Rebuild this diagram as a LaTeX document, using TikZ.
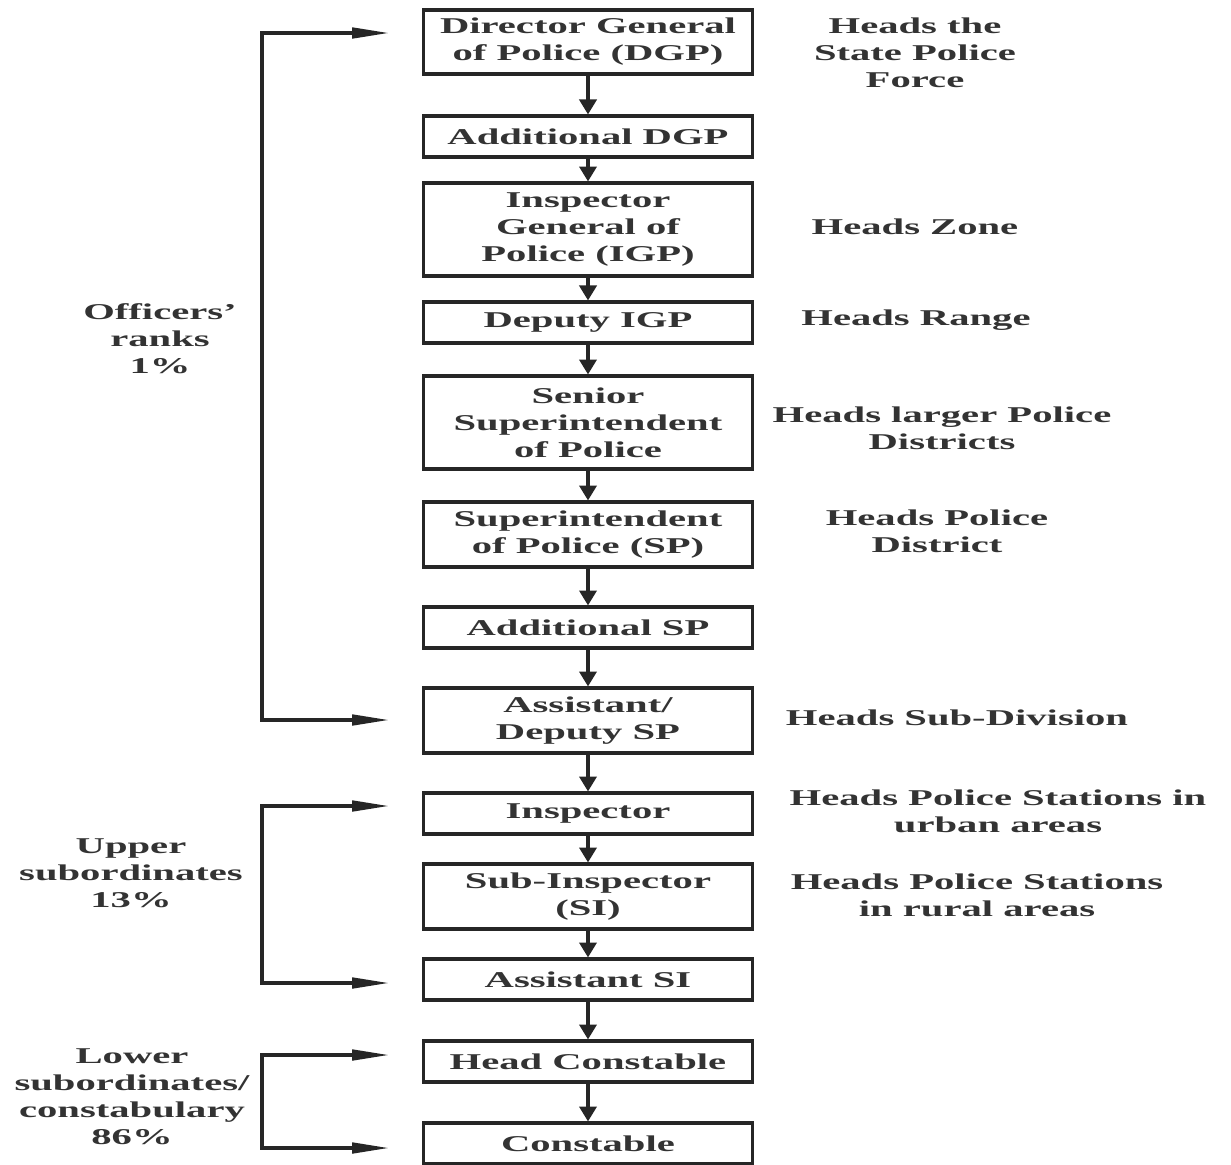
\documentclass[tikz,border=0pt]{standalone}
\usepackage{fontspec}
\setmainfont[FakeStretch=1.8]{Liberation Serif}
\usetikzlibrary{positioning, arrows.meta}

\begin{document}
\begin{tikzpicture}[
        x=0.02cm, y=-0.02cm,
        font=\bfseries\fontsize{12.85}{15.3}\selectfont,
        line width=1.8pt,
        rank/.style={draw=black!85, text=black!80, align=center, inner sep=0pt, minimum width=6.58cm, minimum height=0.82cm},
        note/.style={text=black!80, align=center, inner sep=0pt},
        down/.style={-{Triangle[length=8.5pt, width=9.8pt]}, draw=black!85},
        group/.style={{Triangle[length=21pt, width=6pt]}-{Triangle[length=21pt, width=6pt]}, draw=black!85},
    ]
    \useasboundingbox (0,0) rectangle (1231,1164);

    % Ranks, top to bottom
    \node[rank, minimum height=1.28cm] (dgp) at (588,42) {Director General\\of Police (DGP)};
    \node[rank] (adgp) at (588,136.5) {Additional DGP};
    \node[rank, minimum height=1.86cm] (igp) at (588,229.5) {Inspector\\General of\\Police (IGP)};
    \node[rank] (digp) at (588,322.5) {Deputy IGP};
    \node[rank, minimum height=1.86cm] (ssp) at (588,422.5) {Senior\\Superintendent\\of Police};
    \node[rank, minimum height=1.3cm] (sp) at (588,534.5) {Superintendent\\of Police (SP)};
    \node[rank] (addsp) at (588,627.5) {Additional SP};
    \node[rank, minimum height=1.3cm] (dsp) at (588,720.5) {Assistant/\\Deputy SP};
    \node[rank] (insp) at (588,813.5) {Inspector};
    \node[rank, minimum height=1.3cm] (si) at (588,896.5) {Sub-Inspector\\(SI)};
    \node[rank] (asi) at (588,979.5) {Assistant SI};
    \node[rank] (hc) at (588,1061.5) {Head Constable};
    \node[rank] (con) at (588,1143.5) {Constable};

    % Chain of command
    \foreach \upper/\lower in {dgp/adgp, adgp/igp, igp/digp, digp/ssp, ssp/sp, sp/addsp,
            addsp/dsp, dsp/insp, insp/si, si/asi, asi/hc, hc/con}
        \draw[down] (\upper.south) -- (\lower.north);

    % What each rank heads
    \node[note] (dgp-note) at (915,53) {Heads the\\State Police\\Force};
    \node[note] (igp-note) at (915,227) {Heads Zone};
    \node[note] (digp-note) at (916,320) {Heads Range};
    \node[note] (ssp-note) at (942,428) {Heads larger Police\\Districts};
    \node[note] (sp-note) at (937,531.5) {Heads Police\\District};
    \node[note] (dsp-note) at (957,718) {Heads Sub-Division};
    \node[note] (insp-note) at (998,811.5) {Heads Police Stations in\\urban areas};
    \node[note] (si-note) at (977,895.5) {Heads Police Stations\\in rural areas};

    % Groups of ranks
    \node[note] (officers) at (160,339) {Officers'\\ranks\\1\%};
    \node[note] (upper) at (131,873) {Upper\\subordinates\\13\%};
    \node[note] (lower) at (132,1097) {Lower\\subordinates/\\constabulary\\86\%};

    \coordinate (off-top) at (389,33);
    \coordinate (off-a) at (262,33);
    \coordinate (off-b) at (262,720);
    \coordinate (off-bot) at (389,720);
    \coordinate (up-top) at (389,806);
    \coordinate (up-a) at (262,806);
    \coordinate (up-b) at (262,983);
    \coordinate (up-bot) at (389,983);
    \coordinate (low-top) at (389,1055);
    \coordinate (low-a) at (262,1055);
    \coordinate (low-b) at (262,1148);
    \coordinate (low-bot) at (389,1148);

    \draw[group] (off-top) -- (off-a) -- (off-b) -- (off-bot);
    \draw[group] (up-top) -- (up-a) -- (up-b) -- (up-bot);
    \draw[group] (low-top) -- (low-a) -- (low-b) -- (low-bot);
\end{tikzpicture}
\end{document}
